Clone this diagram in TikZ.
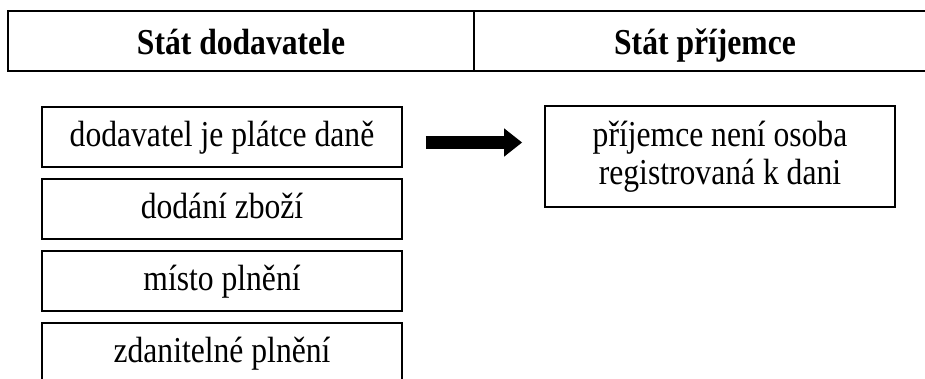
\documentclass[tikz,border=0pt]{standalone}
\usepackage{fontspec}
\setmainfont[FakeStretch=0.866]{Liberation Serif}
\usetikzlibrary{arrows.meta}
\begin{document}
\begin{tikzpicture}[x=1pt,y=-1pt,
  cell/.style={draw=black,line width=1.7pt,inner sep=0pt,anchor=center,
    minimum height=60pt,text height=30pt,text depth=4pt,
    font=\fontsize{36.5}{38}\selectfont\bfseries},
  box/.style={draw=black,line width=1.7pt,inner sep=0pt,anchor=center,
    minimum width=360pt,minimum height=60pt,text height=27pt,text depth=9pt,
    font=\fontsize{36.5}{38}\selectfont},
  rbox/.style={draw=black,line width=1.7pt,inner sep=0pt,anchor=center,align=center,
    minimum width=350pt,minimum height=101pt,text height=65pt,text depth=9pt,
    font=\fontsize{36.5}{38}\selectfont},
  bigarrow/.style={line width=13pt,-{Triangle[length=18pt,width=27pt]}}]
\clip (0,0) rectangle (925,378);
\fill[white] (0,0) rectangle (925,378);
\node[cell,minimum width=466pt] (h1) at (241,41) {Stát dodavatele};
\node[cell,minimum width=462pt] (h2) at (705,41) {Stát příjemce};
\node[box] (b1) at (222,137) {dodavatel je plátce daně};
\node[box] (b2) at (222,209) {dodání zboží};
\node[box] (b3) at (222,281) {místo plnění};
\node[box] (b4) at (222,353) {zdanitelné plnění};
\node[rbox] (r) at (720,156.5) {příjemce není osoba\\registrovaná k dani};
\draw[bigarrow] ([xshift=23pt,yshift=-5.5pt]b1.east) -- ([xshift=-22pt,yshift=14pt]r.west);
\end{tikzpicture}
\end{document}
